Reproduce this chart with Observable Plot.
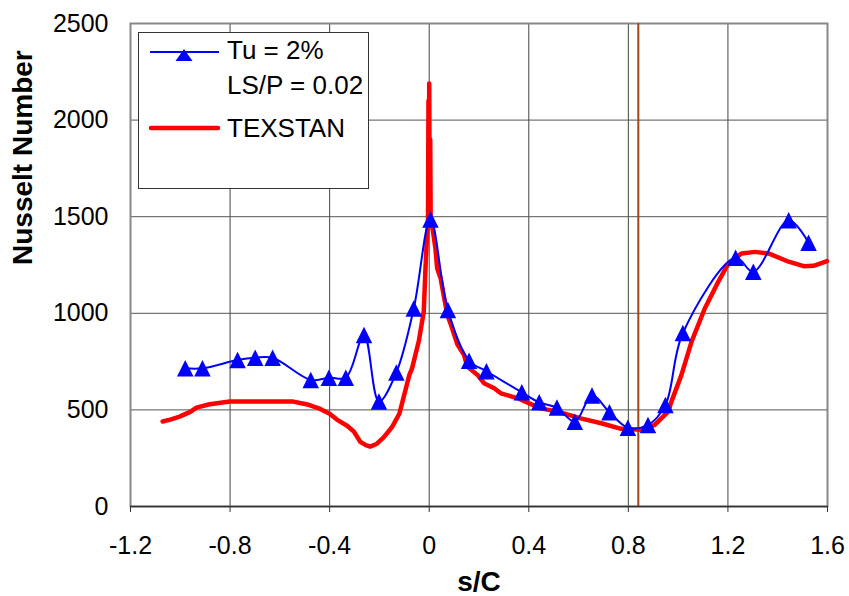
<!DOCTYPE html>
<html><head><meta charset="utf-8">
<script src="https://cdn.jsdelivr.net/npm/d3@7"></script>
<script src="https://cdn.jsdelivr.net/npm/@observablehq/plot@0.6"></script>
<style>
html,body{margin:0;padding:0;background:#fff;}
#wrap{position:relative;width:849px;height:596px;font-family:"Liberation Sans",Arial,sans-serif;}
#legend{position:absolute;left:138px;top:32px;}
</style></head><body><div id="wrap"></div>
<script>
// Tick values
const xTicks = [-1.2, -0.8, -0.4, 0, 0.4, 0.8, 1.2, 1.6];
const yTicks = [0, 500, 1000, 1500, 2000, 2500];

// Series 1: measured, Tu = 2%, LS/P = 0.02
const blueS  = [-0.98, -0.911, -0.770, -0.699, -0.629, -0.476, -0.403, -0.335, -0.262, -0.202, -0.132, -0.062, 0.005, 0.075, 0.160, 0.230, 0.372, 0.442, 0.513, 0.585, 0.654, 0.724, 0.798, 0.879, 0.949, 1.019, 1.231, 1.302, 1.444, 1.524];
const blueNu = [715, 715, 758, 770, 770, 655, 667, 667, 888, 543, 694, 1025, 1485, 1017, 755, 700, 591, 539, 512, 439, 574, 488, 408, 422, 526, 898, 1287, 1215, 1482, 1365];

// Series 2: TEXSTAN prediction
const redS  = [-1.071, -1.040, -1.003, -0.960, -0.935, -0.882, -0.801, -0.700, -0.600, -0.546, -0.490, -0.438, -0.400, -0.371, -0.330, -0.304, -0.277, -0.255, -0.237, -0.210, -0.183, -0.150, -0.120, -0.100, -0.080, -0.069, -0.042, -0.022, -0.015, -0.008, -0.005, -0.003, -0.001, 0.000, 0.002, 0.004, 0.006, 0.010, 0.020, 0.025, 0.032, 0.046, 0.060, 0.073, 0.090, 0.113, 0.140, 0.153, 0.194, 0.220, 0.261, 0.288, 0.355, 0.448, 0.516, 0.609, 0.691, 0.771, 0.852, 0.906, 0.960, 0.973, 1.013, 1.054, 1.107, 1.161, 1.202, 1.255, 1.309, 1.363, 1.444, 1.504, 1.544, 1.598];
const redNu = [440, 450, 465, 490, 512, 529, 543, 543, 543, 543, 528, 505, 480, 450, 418, 390, 335, 318, 310, 325, 358, 410, 480, 580, 680, 715, 855, 1008, 1232, 1420, 1450, 2100, 1500, 2190, 1450, 1900, 1450, 1470, 1380, 1335, 1232, 1180, 1080, 991, 930, 840, 784, 724, 681, 638, 612, 586, 560, 508, 491, 456, 431, 402, 397, 422, 491, 543, 680, 853, 1025, 1163, 1258, 1310, 1318, 1310, 1267, 1244, 1246, 1270];

// Vertical reference line
const refS = [0.84];

const legendLabels = ["Tu = 2%", "LS/P = 0.02", "TEXSTAN"];
const xLabel = "s/C";
const yLabel = "Nusselt Number";

const blue = blueS.map((s, i) => ({s, nu: blueNu[i]}));
const red = redS.map((s, i) => ({s, nu: redNu[i]}));

const tri = {draw(ctx, size) {
  const w = Math.sqrt(size / Math.PI) * 3, h = w;
  ctx.moveTo(0, -h / 2); ctx.lineTo(w / 2, h / 2); ctx.lineTo(-w / 2, h / 2); ctx.closePath();
}};

const chart = Plot.plot({
  width: 849, height: 596,
  marginLeft: 130, marginRight: 22, marginTop: 23, marginBottom: 90,
  style: {fontFamily: "'Liberation Sans', Arial, sans-serif", background: "white", color: "black"},
  x: {domain: [-1.2, 1.6]},
  y: {domain: [0, 2500]},
  marks: [
    Plot.gridX(xTicks, {stroke: "#444", strokeOpacity: 1, strokeWidth: 1}),
    Plot.gridY(yTicks, {stroke: "#555", strokeOpacity: 1, strokeWidth: 1}),
    Plot.frame({stroke: "#888", strokeWidth: 2}),
    Plot.ruleY([0], {stroke: "#333", strokeWidth: 1.5}),
    Plot.axisX(xTicks, {tickSize: 6, tickPadding: 24, fontSize: 25, stroke: "#333", tickFormat: d => String(d), label: null}),
    Plot.axisY(yTicks, {tickSize: 0, tickPadding: 22, fontSize: 25, tickFormat: d => String(d), label: null}),
    Plot.ruleX(refS, {stroke: "#a0441c", strokeWidth: 2}),
    Plot.line(red, {x: "s", y: "nu", stroke: "#ff0000", strokeWidth: 4.5, strokeLinejoin: "round", strokeLinecap: "round"}),
    Plot.line(blue, {x: "s", y: "nu", stroke: "#0000ff", strokeWidth: 2, curve: "catmull-rom"}),
    Plot.dot(blue, {x: "s", y: "nu", symbol: tri, r: 5.5, fill: "#0000ff", stroke: "none"}),
    Plot.text([xLabel], {text: d => d, frameAnchor: "bottom", dy: 76, fontSize: 28, fontWeight: "bold", lineAnchor: "middle"}),
    Plot.text([yLabel], {text: d => d, frameAnchor: "left", dx: -107, rotate: -90, fontSize: 28, fontWeight: "bold", lineAnchor: "middle"})
  ]
});
const wrap = document.getElementById("wrap");
wrap.appendChild(chart);

// Legend
const ns = "http://www.w3.org/2000/svg";
const lg = document.createElementNS(ns, "svg");
lg.setAttribute("id", "legend");
lg.setAttribute("width", 232); lg.setAttribute("height", 158);
lg.innerHTML = `
<rect x="0.5" y="0.5" width="230" height="156" fill="white" stroke="#333" stroke-width="1"/>
<line x1="12" y1="20" x2="81" y2="20" stroke="#0000ff" stroke-width="2"/>
<path d="M46,17 L54.5,29 L37.5,29 Z" fill="#0000ff"/>
<line x1="13" y1="96" x2="80" y2="96" stroke="#ff0000" stroke-width="4.5" stroke-linecap="round"/>
<text x="89" y="27" font-size="26" font-family="'Liberation Sans', Arial, sans-serif">${legendLabels[0]}</text>
<text x="89" y="62" font-size="26" font-family="'Liberation Sans', Arial, sans-serif">${legendLabels[1]}</text>
<text x="89" y="104.5" font-size="26" font-family="'Liberation Sans', Arial, sans-serif">${legendLabels[2]}</text>
`;
wrap.appendChild(lg);
</script></body></html>
